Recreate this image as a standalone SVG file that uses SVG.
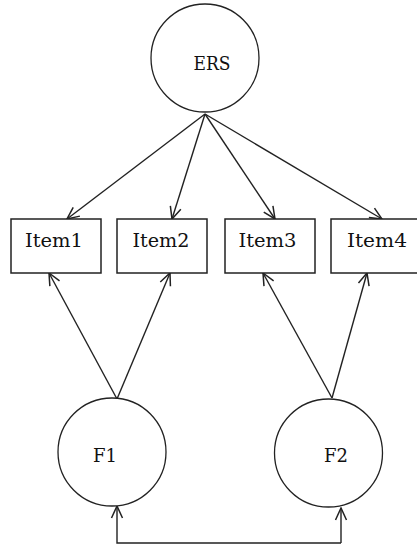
<svg xmlns="http://www.w3.org/2000/svg" width="417" height="548" viewBox="0 0 417 548">
<defs>
<marker id="arr" viewBox="0 0 14 14" refX="13" refY="7" markerWidth="14" markerHeight="14" markerUnits="userSpaceOnUse" orient="auto">
<path d="M1,1.5 L13,7 L1,12.5" fill="none" stroke="#222" stroke-width="1.5"/>
</marker>
<style>
.node{fill:#fff;stroke:#222;stroke-width:1.3}
.box{fill:#fff;stroke:#222;stroke-width:1.5}
.lbl{font-family:"DejaVu Serif","Liberation Serif",serif;font-size:19px;fill:#111;text-anchor:middle}
.edge{fill:none;stroke:#222;stroke-width:1.4;marker-end:url(#arr)}
</style>
</defs>
<rect width="417" height="548" fill="#fff"/>
<g id="connectors">
<line class="edge" x1="205" y1="114" x2="67" y2="219"/>
<line class="edge" x1="205" y1="114" x2="172" y2="219"/>
<line class="edge" x1="205" y1="114" x2="275" y2="219"/>
<line class="edge" x1="205" y1="114" x2="382" y2="219"/>
<line class="edge" x1="117" y1="399" x2="49" y2="273"/>
<line class="edge" x1="117" y1="399" x2="170" y2="273"/>
<line class="edge" x1="332" y1="398" x2="263" y2="273"/>
<line class="edge" x1="332" y1="398" x2="367" y2="273"/>
<polyline class="edge" points="341,543 117,543 117,506"/>
<line class="edge" x1="341" y1="543" x2="341" y2="508"/>
</g>
<g id="ERS">
<circle class="node" cx="205" cy="58" r="54"/>
<text class="lbl" x="212" y="70" textLength="37" lengthAdjust="spacingAndGlyphs">ERS</text>
</g>
<g id="Item1">
<rect class="box" x="11" y="219" width="90" height="54"/>
<text class="lbl" x="54" y="247" textLength="58" lengthAdjust="spacingAndGlyphs">Item1</text>
</g>
<g id="Item2">
<rect class="box" x="117" y="219" width="90" height="54"/>
<text class="lbl" x="161" y="247" textLength="57" lengthAdjust="spacingAndGlyphs">Item2</text>
</g>
<g id="Item3">
<rect class="box" x="225" y="219" width="90" height="54"/>
<text class="lbl" x="267.5" y="247" textLength="58" lengthAdjust="spacingAndGlyphs">Item3</text>
</g>
<g id="Item4">
<rect class="box" x="331" y="219" width="90" height="54"/>
<text class="lbl" x="377" y="247" textLength="60" lengthAdjust="spacingAndGlyphs">Item4</text>
</g>
<g id="F1">
<circle class="node" cx="112" cy="452" r="54"/>
<text class="lbl" x="105" y="462" textLength="24" lengthAdjust="spacingAndGlyphs">F1</text>
</g>
<g id="F2">
<circle class="node" cx="328.5" cy="453" r="54"/>
<text class="lbl" x="336" y="462" textLength="24" lengthAdjust="spacingAndGlyphs">F2</text>
</g>
</svg>
